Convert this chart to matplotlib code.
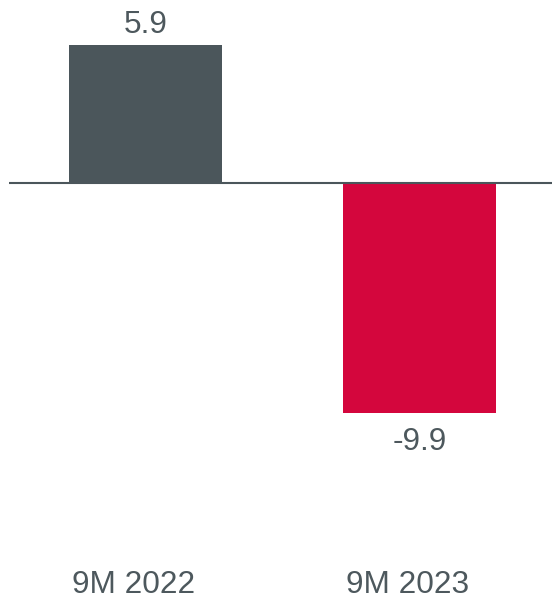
import matplotlib.pyplot as plt

periods = ['9M 2022', '9M 2023']
values = [5.9, -9.9]
bar_colors = ['#4b565b', '#d4063d']
text_color = '#4d585d'

plt.rcParams['font.family'] = ['Liberation Sans', 'DejaVu Sans']

fig = plt.figure(figsize=(5.52, 6.0), dpi=100)
ax = fig.add_axes([9 / 552, 0, 1 - 9 / 552, 1])

x = list(range(len(periods)))
ax.bar(x, values, width=0.558, color=bar_colors, zorder=2)
ax.axhline(0, color='#4b565b', linewidth=1.5, zorder=3)

# value labels above / below each bar
for i, v in enumerate(values):
    offset = 12 if v >= 0 else -37
    ax.annotate(f'{v:.1f}', xy=(i, v), xytext=(0, offset), textcoords='offset pixels',
                ha='center', va='baseline', fontsize=22.7, color=text_color)

# category labels along the bottom
for i, name in enumerate(periods):
    ax.annotate(name, xy=(i, 0), xycoords=('data', 'axes fraction'),
                xytext=(-12, 7), textcoords='offset pixels',
                ha='center', va='baseline', fontsize=22.7, color=text_color)

ax.set_xlim(-0.498, 1.4836)
ax.set_ylim(-17.918, 7.833)
ax.axis('off')

fig.savefig('out.png', dpi=100)
